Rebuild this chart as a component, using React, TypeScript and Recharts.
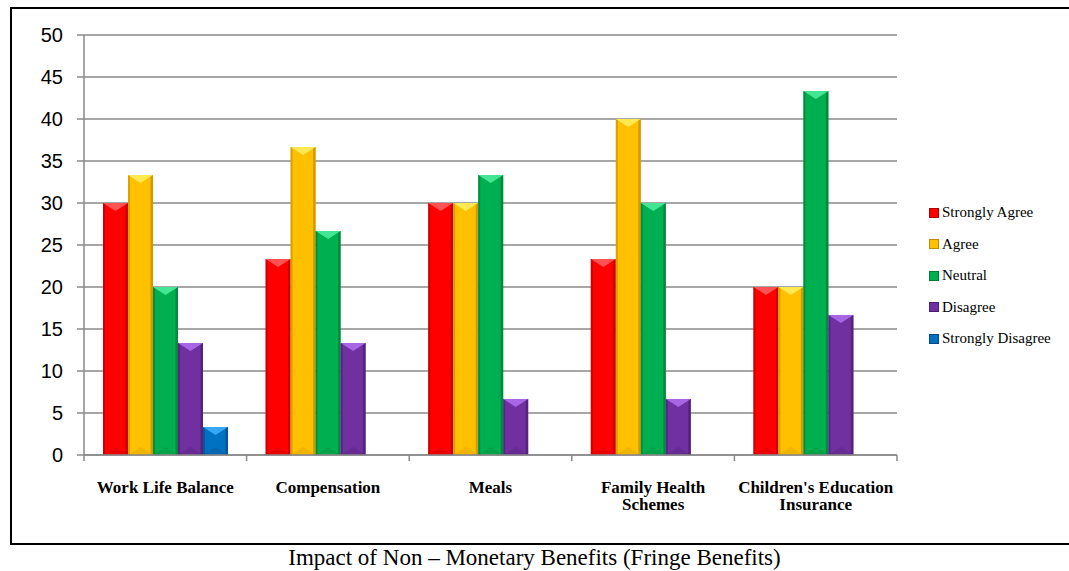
import { Bar, BarChart, CartesianGrid, XAxis, YAxis } from "recharts";

const categories = [
  "Work Life Balance",
  "Compensation",
  "Meals",
  "Family Health Schemes",
  "Children's Education Insurance",
];
const tickLines = [
  ["Work Life Balance"],
  ["Compensation"],
  ["Meals"],
  ["Family Health", "Schemes"],
  ["Children's Education", "Insurance"],
];
const stronglyAgree = [30, 23.33, 30, 23.33, 20];
const agree = [33.33, 36.67, 30, 40, 20];
const neutral = [20, 26.67, 33.33, 30, 43.33];
const disagree = [13.33, 13.33, 6.67, 6.67, 16.67];
const stronglyDisagree = [3.33, null, null, null, null];
const yTicks = [0, 5, 10, 15, 20, 25, 30, 35, 40, 45, 50];

const series = [
  { key: "sa", name: "Strongly Agree", color: "#FF0000", dark: "#B00000", light: "#FF6060" },
  { key: "a", name: "Agree", color: "#FFC000", dark: "#C08A00", light: "#FFF060" },
  { key: "n", name: "Neutral", color: "#00B050", dark: "#007A36", light: "#50F0A0" },
  { key: "d", name: "Disagree", color: "#7030A0", dark: "#4A1D70", light: "#B070F0" },
  { key: "sd", name: "Strongly Disagree", color: "#0070C0", dark: "#004A85", light: "#40B0FF" },
];

const data = categories.map((c, i) => ({
  name: c,
  sa: stronglyAgree[i],
  a: agree[i],
  n: neutral[i],
  d: disagree[i],
  sd: stronglyDisagree[i],
}));

const W = 1069;
const H = 571;
const M = { top: 35, right: 172, left: 0, bottom: 56 };
const YAXIS_W = 84;
const BAND = (W - M.right - YAXIS_W) / categories.length;
const AXIS_Y = H - M.bottom - 60;

function bevelShape(s: (typeof series)[number]) {
  return (props: any) => {
    const { x, y, width, height } = props;
    if (!height || height <= 0) return <g />;
    const b = Math.min(width * 0.32, height / 2);
    return (
      <g>
        <rect x={x} y={y} width={width} height={height} fill={s.color} />
        <rect x={x} y={y} width={2} height={height} fill={s.dark} opacity={0.6} />
        <rect x={x + width - 2.5} y={y} width={2.5} height={height} fill={s.dark} opacity={0.7} />
        <polygon
          points={`${x},${y} ${x + width},${y} ${x + width / 2},${y + b}`}
          fill={s.light}
          opacity={0.85}
        />
        <polygon
          points={`${x},${y + height} ${x + width},${y + height} ${x + width / 2},${y + height - b}`}
          fill={s.dark}
          opacity={0.25}
        />
      </g>
    );
  };
}

function CategoryTick(props: any) {
  const { x, payload, index } = props;
  const i0 = payload.index ?? index;
  const lines = tickLines[i0] ?? [String(payload.value)];
  return (
    <g>
      <line x1={x - BAND / 2} x2={x - BAND / 2} y1={AXIS_Y} y2={AXIS_Y + 6} stroke="#8a8a8a" strokeWidth={1.5} />
      {i0 === categories.length - 1 && (
        <line x1={x + BAND / 2} x2={x + BAND / 2} y1={AXIS_Y} y2={AXIS_Y + 6} stroke="#8a8a8a" strokeWidth={1.5} />
      )}
      <text
        x={x}
        y={AXIS_Y + 38}
        textAnchor="middle"
        fontFamily="'Liberation Serif', 'Times New Roman', serif"
        fontWeight="bold"
        fontSize={17}
        fill="#000"
      >
        {lines.map((l: string, i: number) => (
          <tspan key={i} x={x} dy={i === 0 ? 0 : 17}>
            {l}
          </tspan>
        ))}
      </text>
    </g>
  );
}

function LegendBox() {
  return (
    <div
      style={{
        position: "absolute",
        left: 929,
        top: 197,
        fontFamily: "'Liberation Serif', 'Times New Roman', serif",
        fontSize: 15,
      }}
    >
      {series.map((s) => (
        <div key={s.key} style={{ height: 31.5, display: "flex", alignItems: "center" }}>
          <span
            style={{
              display: "inline-block",
              width: 8,
              height: 8,
              marginRight: 3,
              background: s.color,
              border: `1px solid ${s.dark}`,
            }}
          />
          <span style={{ color: "#000" }}>{s.name}</span>
        </div>
      ))}
    </div>
  );
}

export default function App() {
  return (
    <div style={{ position: "absolute", left: 0, top: 0, width: W, height: H, overflow: "hidden", background: "#fff" }}>
      <div
        style={{
          position: "absolute",
          left: 10,
          top: 7,
          width: 1080,
          height: 534,
          border: "2px solid #000",
        }}
      />
      <div style={{ position: "absolute", left: 0, top: 0 }}>
        <BarChart width={W} height={H} data={data} margin={M} barGap={0} barSize={25}>
          <CartesianGrid vertical={false} stroke="#8a8a8a" strokeWidth={1.5} />
          <XAxis
            dataKey="name"
            height={60}
            interval={0}
            tickLine={false}
            axisLine={{ stroke: "#8a8a8a", strokeWidth: 1.5 }}
            tick={<CategoryTick />}
          />
          <YAxis
            width={YAXIS_W}
            domain={[0, 50]}
            ticks={yTicks}
            interval={0}
            tickSize={7}
            tickMargin={14}
            tickLine={{ stroke: "#8a8a8a", strokeWidth: 1.5 }}
            axisLine={{ stroke: "#8a8a8a", strokeWidth: 1.5 }}
            tick={{ fill: "#000", fontSize: 20, fontFamily: "'Liberation Sans', Arial, sans-serif" }}
          />
          {series.map((s) => (
            <Bar
              key={s.key}
              dataKey={s.key}
              name={s.name}
              fill={s.color}
              shape={bevelShape(s)}
              isAnimationActive={false}
            />
          ))}
        </BarChart>
      </div>
      <LegendBox />
      <div
        style={{
          position: "absolute",
          left: 0,
          top: 545,
          width: W,
          textAlign: "center",
          fontFamily: "'Liberation Serif', 'Times New Roman', serif",
          fontSize: 23,
          lineHeight: "25px",
          color: "#000",
        }}
      >
        Impact of Non – Monetary Benefits (Fringe Benefits)
      </div>
    </div>
  );
}
